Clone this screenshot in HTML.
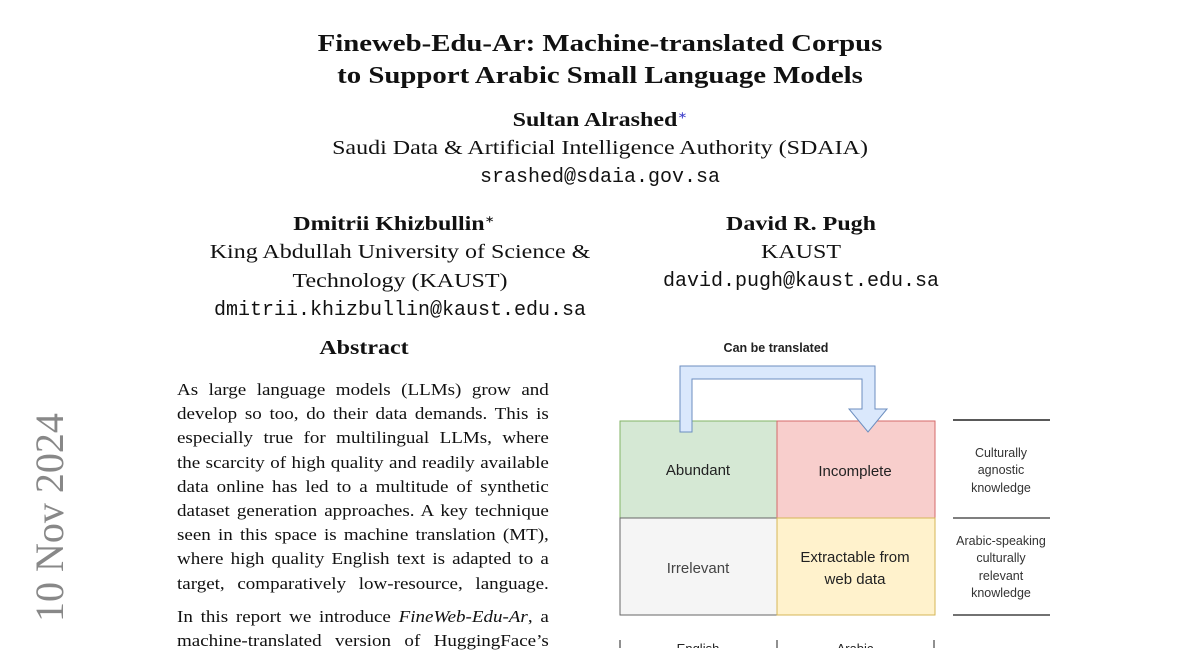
<!DOCTYPE html>
<html><head><style>
body{margin:0;width:1200px;height:648px;background:#fff;position:relative;overflow:hidden;font-family:"Liberation Serif",serif;color:#111}
.a{position:absolute;white-space:nowrap}
.c{transform:translateX(-50%) scaleX(1.2);text-align:center}
.cm{transform:translateX(-50%);text-align:center}
.t{font-weight:bold;font-size:24px}
.m{font-family:"Liberation Mono",monospace;font-size:20px}
.abs{position:absolute;left:177px;width:338px;font-size:17.3px;line-height:24.2px;transform-origin:0 0;transform:scaleX(1.1)}
.abs div{text-align:justify;text-align-last:justify;height:24.2px;overflow:visible}
</style></head><body>
<div class="a c t" style="left:600px;top:31px">Fineweb-Edu-Ar: Machine-translated Corpus</div>
<div class="a c t" style="left:600px;top:63px">to Support Arabic Small Language Models</div>
<div class="a c" style="left:600px;top:109px;font-size:20px;font-weight:bold">Sultan Alrashed<sup style="font-size:10px;color:#44c;font-weight:normal">∗</sup></div>
<div class="a c" style="left:600px;top:137px;font-size:20px">Saudi Data &amp; Artificial Intelligence Authority (SDAIA)</div>
<div class="a cm m" style="left:600px;top:166px">srashed@sdaia.gov.sa</div>
<div class="a c" style="left:394px;top:213px;font-size:20px;font-weight:bold">Dmitrii Khizbullin<sup style="font-size:10px;font-weight:normal">∗</sup></div>
<div class="a c" style="left:400px;top:241px;font-size:20px">King Abdullah University of Science &amp;</div>
<div class="a c" style="left:400px;top:270px;font-size:20px">Technology (KAUST)</div>
<div class="a cm m" style="left:400px;top:299px">dmitrii.khizbullin@kaust.edu.sa</div>
<div class="a c" style="left:801px;top:213px;font-size:20px;font-weight:bold">David R. Pugh</div>
<div class="a c" style="left:801px;top:241px;font-size:20px">KAUST</div>
<div class="a cm m" style="left:801px;top:270px">david.pugh@kaust.edu.sa</div>
<div class="a c" style="left:364px;top:337px;font-size:20px;font-weight:bold">Abstract</div>
<div class="a" style="left:26px;top:622px;transform-origin:0 0;transform:rotate(-90deg);font-size:40px;color:#888;">10 Nov 2024</div>
<div class="abs" style="top:378px">
<div>As large language models (LLMs) grow and</div>
<div>develop so too, do their data demands. This is</div>
<div>especially true for multilingual LLMs, where</div>
<div>the scarcity of high quality and readily available</div>
<div>data online has led to a multitude of synthetic</div>
<div>dataset generation approaches. A key technique</div>
<div>seen in this space is machine translation (MT),</div>
<div>where high quality English text is adapted to a</div>
<div>target, comparatively low-resource, language.</div>
</div>
<div class="abs" style="top:605px">
<div>In this report we introduce <i>FineWeb-Edu-Ar</i>, a</div>
<div>machine-translated version of HuggingFace’s</div>
</div>
<svg class="a" style="left:0;top:0" width="1200" height="648">
<g font-family="Liberation Sans,sans-serif" text-anchor="middle" fill="#222">
<text x="776" y="352" font-size="12.5" font-weight="bold">Can be translated</text>
<rect x="620" y="421" width="157" height="97" fill="#d5e8d4" stroke="#82b366"/>
<rect x="777" y="421" width="158" height="97" fill="#f8cecc" stroke="#d46a6a"/>
<rect x="620" y="518" width="157" height="97" fill="#f5f5f5" stroke="#666"/>
<rect x="777" y="518" width="158" height="97" fill="#fff2cc" stroke="#d6b656"/>
<polygon points="680,432 680,366 875,366 875,409 887,409 868,432 849,409 862,409 862,379 692,379 692,432" fill="#dae8fc" stroke="#6c8ebf"/>
<text x="698" y="475" font-size="15">Abundant</text>
<text x="855" y="476" font-size="15">Incomplete</text>
<text x="698" y="573" font-size="15" fill="#444">Irrelevant</text>
<text x="855" y="562" font-size="15">Extractable from</text>
<text x="855" y="584" font-size="15">web data</text>
<line x1="953" y1="420" x2="1050" y2="420" stroke="#222" stroke-width="1.5"/>
<line x1="953" y1="518" x2="1050" y2="518" stroke="#555" stroke-width="1.5"/>
<line x1="953" y1="615" x2="1050" y2="615" stroke="#444" stroke-width="1.5"/>
<g font-size="12.5" fill="#333">
<text x="1001" y="457">Culturally</text><text x="1001" y="474">agnostic</text><text x="1001" y="492">knowledge</text>
<text x="1001" y="545">Arabic-speaking</text><text x="1001" y="562">culturally</text><text x="1001" y="580">relevant</text><text x="1001" y="597">knowledge</text>
</g>
<line x1="620" y1="640" x2="620" y2="648" stroke="#222"/>
<line x1="777" y1="640" x2="777" y2="648" stroke="#222"/>
<line x1="934" y1="640" x2="934" y2="648" stroke="#222"/>
<text x="698" y="653" font-size="13">English</text>
<text x="855" y="653" font-size="13">Arabic</text>
</g>
</svg>
</body></html>
